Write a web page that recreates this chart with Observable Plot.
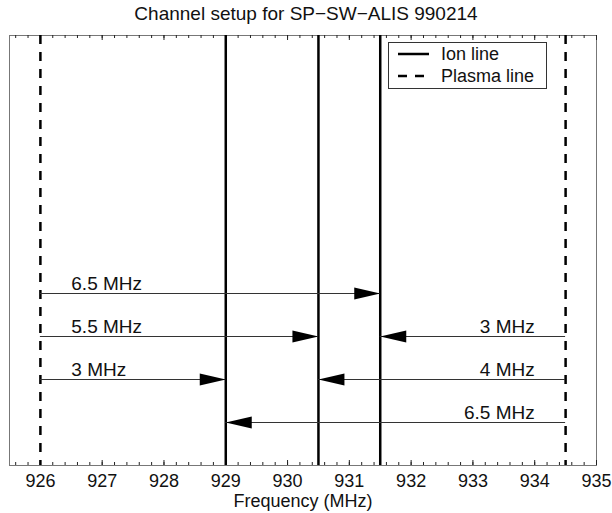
<!DOCTYPE html>
<html>
<head>
<meta charset="utf-8">
<script src="https://cdn.jsdelivr.net/npm/d3@7"></script>
<script src="https://cdn.jsdelivr.net/npm/@observablehq/plot@0.6"></script>
<style>
  html, body { margin: 0; padding: 0; background: #fff; }
  #wrap { position: relative; width: 612px; height: 513px; font-family: "Liberation Sans", Arial, sans-serif; }
  #title { position: absolute; left: 0; top: 4px; width: 612px; text-align: center; font-size: 19px; line-height: 19px; color: #111; }
  #chart { position: absolute; left: 0; top: 28px; }
  #legend { position: absolute; left: 388px; top: 42px; }
</style>
</head>
<body>
<div id="wrap">
  <div id="title">Channel setup for SP−SW−ALIS 990214</div>
  <div id="chart"></div>
  <svg id="legend" width="159" height="47"></svg>
</div>
<script>
// ---- data ----
const ionLines = [929, 930.5, 931.5];          // solid vertical lines (MHz)
const plasmaLines = [926, 934.5];              // dashed vertical lines (MHz)

const arrowFrom  = [926, 926, 934.5, 926, 934.5, 934.5];
const arrowTo    = [931.5, 930.5, 931.5, 929, 930.5, 929];
const arrowLevel = [0.4, 0.3, 0.3, 0.2, 0.2, 0.1];
const arrowText  = ["6.5 MHz", "5.5 MHz", "3 MHz", "3 MHz", "4 MHz", "6.5 MHz"];
const labelLeftX  = 926.5;
const labelRightX = 934;

const xDomain = [925.5, 935];
const majorTicks = [926, 927, 928, 929, 930, 931, 932, 933, 934, 935];
const minorTicks = d3.range(4628, 4676).map(i => i / 5);

const legendItems = ["Ion line", "Plasma line"];

// ---- build table ----
const arrows = arrowFrom.map((f, i) => ({
  from: f, to: arrowTo[i], level: arrowLevel[i], text: arrowText[i],
  side: f < arrowTo[i] ? "left" : "right"
}));

const W = 612, H = 485, mT = 7, mB = 48, mL = 9, mR = 16;
const frameH = H - mT - mB;

// arrowhead symbol: tip at origin, pointing right
const arrowHead = {
  draw(ctx) {
    ctx.moveTo(0, 0);
    ctx.lineTo(-26, -6);
    ctx.lineTo(-26, 6);
    ctx.closePath();
  }
};

const chart = Plot.plot({
  width: W, height: H,
  marginTop: mT, marginBottom: mB, marginLeft: mL, marginRight: mR,
  style: { fontFamily: "Liberation Sans, Arial, sans-serif", fontSize: "18px", color: "#111", background: "white" },
  x: { domain: xDomain, ticks: majorTicks },
  y: { domain: [0, 1], axis: null },
  marks: [
    Plot.frame({ stroke: "#777", strokeWidth: 1 }),
    // ticks (inward, bottom & top)
    Plot.ruleX(minorTicks, { x: d => d, insetTop: frameH - 3, stroke: "#222", strokeWidth: 1 }),
    Plot.ruleX(minorTicks, { x: d => d, insetBottom: frameH - 3, stroke: "#222", strokeWidth: 1 }),
    Plot.ruleX(majorTicks, { x: d => d, insetTop: frameH - 5, stroke: "#222", strokeWidth: 1 }),
    Plot.ruleX(majorTicks, { x: d => d, insetBottom: frameH - 5, stroke: "#222", strokeWidth: 1 }),
    Plot.axisX({ tickSize: 0, tickPadding: 9, fontSize: 18, label: null, tickFormat: d => String(d) }),
    Plot.text(["Frequency (MHz)"], { frameAnchor: "bottom", lineAnchor: "middle", dy: 36, fontSize: 18, fill: "#111" }),
    // vertical lines
    Plot.ruleX(plasmaLines, { x: d => d, stroke: "black", strokeWidth: 2.5, strokeDasharray: "9,8" }),
    Plot.ruleX(ionLines, { x: d => d, stroke: "black", strokeWidth: 2.5 }),
    // arrows
    Plot.ruleY(arrows, { y: "level", x1: "from", x2: "to", stroke: "#333", strokeWidth: 1 }),
    Plot.dot(arrows, { x: "to", y: "level", symbol: arrowHead, r: 5, fill: "black", stroke: null,
      rotate: d => d.side === "left" ? 0 : 180 }),
    Plot.text(arrows.filter(d => d.side === "left"), { x: () => labelLeftX, y: "level", text: "text",
      textAnchor: "start", dy: -10, fontSize: 19, fill: "#111" }),
    Plot.text(arrows.filter(d => d.side === "right"), { x: () => labelRightX, y: "level", text: "text",
      textAnchor: "end", dy: -10, fontSize: 19, fill: "#111" })
  ]
});
document.getElementById("chart").appendChild(chart);

// ---- legend ----
const lg = d3.select("#legend");
lg.append("rect").attr("x", 0.5).attr("y", 0.5).attr("width", 158).attr("height", 46)
  .attr("fill", "white").attr("stroke", "#333").attr("stroke-width", 1);
const rowsY = [12, 34];
legendItems.forEach((name, i) => {
  lg.append("line").attr("x1", 10).attr("x2", i === 0 ? 41 : 36)
    .attr("y1", rowsY[i]).attr("y2", rowsY[i])
    .attr("stroke", "black").attr("stroke-width", 2.5)
    .attr("stroke-dasharray", i === 0 ? null : "9,8");
  lg.append("text").attr("x", 53).attr("y", rowsY[i]).attr("dy", "0.35em")
    .attr("font-size", 18).attr("fill", "#111")
    .attr("font-family", "Liberation Sans, Arial, sans-serif").text(name);
});
</script>
</body>
</html>
